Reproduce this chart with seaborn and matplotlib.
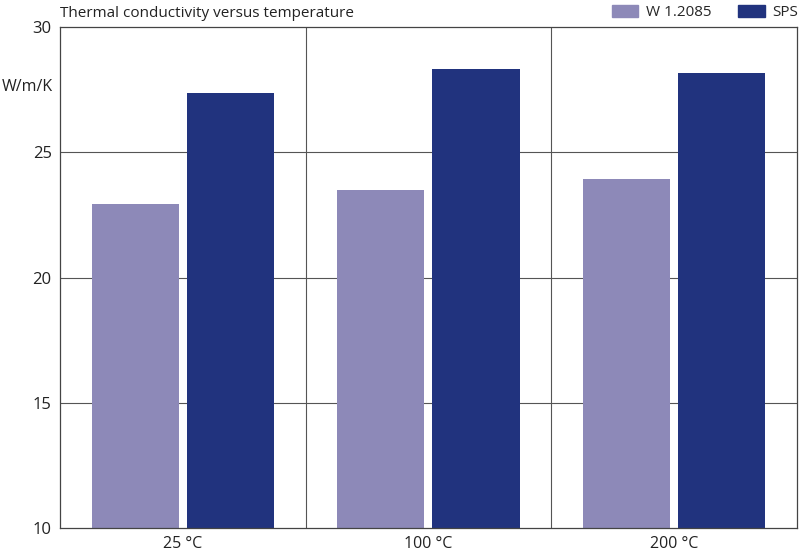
import pandas as pd
import seaborn as sns
import matplotlib.pyplot as plt

# values
temperatures = ['25 °C', '100 °C', '200 °C']
w12085 = [22.95, 23.48, 23.92]
sps = [27.38, 28.32, 28.16]
series_names = ['W 1.2085', 'SPS']
colors = ['#8d89b8', '#21337e']

df = pd.DataFrame({
    'temp': temperatures * 2,
    'value': w12085 + sps,
    'series': [series_names[0]] * 3 + [series_names[1]] * 3,
})

sns.set_style('white')
plt.rcParams['font.family'] = ['Open Sans', 'DejaVu Sans']

fig = plt.figure(figsize=(8, 5.55), dpi=100)
ax = fig.add_axes([0.075, 0.0486, 0.921, 0.9025])

sns.barplot(data=df, x='temp', y='value', hue='series', palette=colors,
            width=0.776, gap=0.085, saturation=1, linewidth=0, ax=ax, legend=False)

ax.set_ylim(10, 30)
ax.set_xlim(-0.5, 2.5)
ax.set_yticks([10, 15, 20, 25, 30])
ax.set_xlabel('')
ax.set_ylabel('')
ax.tick_params(axis='y', length=0, labelsize=12, colors='#222222', pad=6)
ax.tick_params(axis='x', length=0, labelsize=11.5, colors='#222222', pad=6)
for y in [15, 20, 25]:
    ax.axhline(y, color='#555555', lw=0.8, zorder=0)
for x in [0.5, 1.5]:
    ax.axvline(x, color='#555555', lw=0.8, zorder=0)
for s in ax.spines.values():
    s.set_color('#444444')
    s.set_linewidth(0.9)

fig.text(0.066, 0.843, 'W/m/K', ha='right', va='center', fontsize=11.5, color='#222222')
fig.text(0.075, 0.976, 'Thermal conductivity versus temperature', ha='left', va='center',
         fontsize=11, color='#222222')

# legend above the plot, top right
handles = [plt.Rectangle((0, 0), 1, 1, color=c) for c in colors]
fig.legend(handles, series_names, loc='center right', bbox_to_anchor=(0.998, 0.977), ncol=2,
           frameon=False, fontsize=11, handlelength=1.75, handleheight=0.75,
           columnspacing=1.75, handletextpad=0.5, borderpad=0, borderaxespad=0)

fig.savefig('out.png', dpi=100)
